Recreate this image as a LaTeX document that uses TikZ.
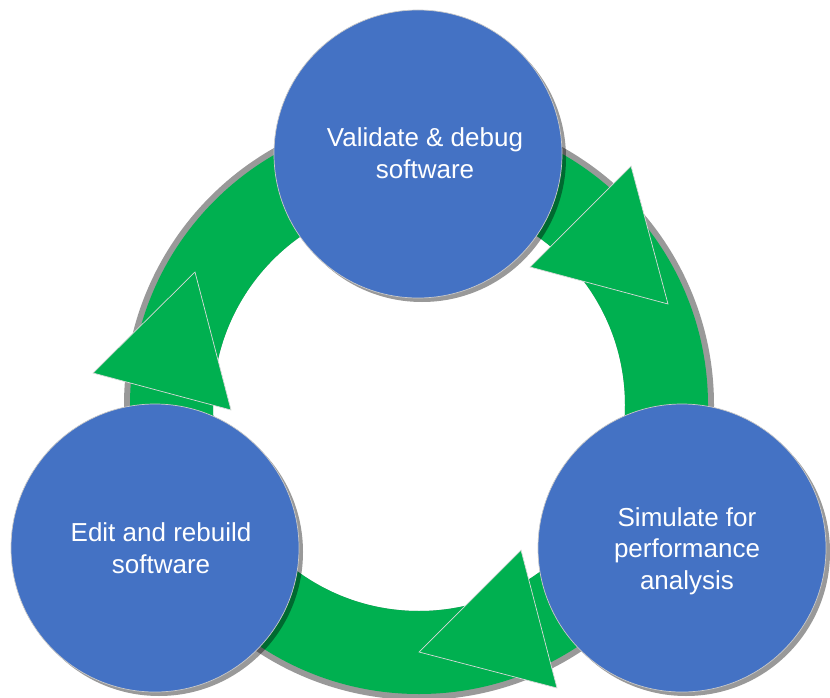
\documentclass[tikz,border=0pt]{standalone}
\usepackage{fontspec}
\setmainfont{Liberation Sans}
\usetikzlibrary{shadows}
\definecolor{stageblue}{HTML}{4472C4}
\definecolor{flowgreen}{HTML}{00B050}
\definecolor{rimgray}{HTML}{C8C8C8}
\tikzset{
  stage/.style={circle, fill=stageblue, draw=rimgray, line width=0.7pt,
    minimum size=288pt, inner sep=0pt,
    drop shadow={shadow xshift=4pt, shadow yshift=-4pt, opacity=0.4, fill=black}},
  stagetext/.style={text=white, align=center, inner sep=0pt,
    font=\fontsize{26}{31.5}\selectfont},
  arrowtip/.style={fill=flowgreen, draw=rimgray!70, line width=0.7pt, line join=miter},
  ringband/.style={fill=flowgreen, even odd rule},
  ringshade/.style={fill=black, opacity=0.4, even odd rule}
}
\begin{document}
\begin{tikzpicture}[x=1pt, y=-1pt]
  \useasboundingbox (0,0) rectangle (830,698);
  % centre of the cycle ring
  \coordinate (hub) at (419,405);
  % ring with its soft outer rim
  \fill[ringshade] (hub) circle (295) (hub) circle (206);
  \fill[ringband] (hub) circle (289) (hub) circle (206);
  % arrow heads on the ring
  \coordinate (t1a) at (631,166); \coordinate (t1b) at (668,304); \coordinate (t1c) at (530,267);
  \coordinate (t2a) at (195,272); \coordinate (t2b) at (231,410); \coordinate (t2c) at (93,373);
  \coordinate (t3a) at (521,550); \coordinate (t3b) at (557,688); \coordinate (t3c) at (419,652);
  \filldraw[arrowtip] (t1a) -- (t1b) -- (t1c) -- cycle;
  \filldraw[arrowtip] (t2a) -- (t2b) -- (t2c) -- cycle;
  \filldraw[arrowtip] (t3a) -- (t3b) -- (t3c) -- cycle;
  % the three stages
  \node[stage] (validate) at (418,154) {};
  \node[stage] (edit) at (155,548) {};
  \node[stage] (simulate) at (682,548) {};
  \node[stagetext] (validatetext) at (425,153) {Validate \& debug\\software};
  \node[stagetext] (edittext) at (161,548) {Edit and rebuild\\software};
  \node[stagetext] (simulatetext) at (687,551) {Simulate for\\performance\\analysis};
\end{tikzpicture}
\end{document}
